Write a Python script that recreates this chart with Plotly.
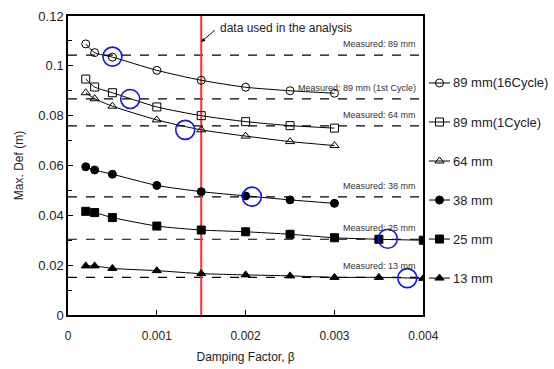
import plotly.graph_objects as go

# Damping factor values used in the analyses
beta_short = [0.0002, 0.0003, 0.0005, 0.001, 0.0015, 0.002, 0.0025, 0.003]
beta_long = [0.0002, 0.0003, 0.0005, 0.001, 0.0015, 0.002, 0.0025, 0.003, 0.0035, 0.004]

# Maximum deflection (m) for each loading amplitude
def_89_16 = [0.1088, 0.1053, 0.1035, 0.0982, 0.0942, 0.0914, 0.0900, 0.0890]
def_89_1 = [0.0947, 0.0915, 0.0892, 0.0835, 0.0800, 0.0776, 0.0760, 0.0750]
def_64 = [0.0892, 0.0868, 0.0838, 0.0783, 0.0743, 0.0718, 0.0696, 0.0680]
def_38 = [0.0595, 0.0582, 0.0565, 0.0520, 0.0495, 0.0478, 0.0462, 0.0448]
def_25 = [0.0416, 0.0411, 0.0391, 0.0357, 0.0341, 0.0334, 0.0324, 0.0310, 0.0304, 0.0300]
def_13 = [0.0197, 0.0197, 0.0187, 0.0178, 0.0166, 0.0161, 0.0157, 0.0151, 0.0151, 0.0147]

series_names = ["89 mm(16Cycle)", "89 mm(1Cycle)", "64 mm", "38 mm", "25 mm", "13 mm"]

# Measured deflections (horizontal reference lines)
measured_labels = ["Measured: 89 mm", "Measured: 89 mm (1st Cycle)", "Measured: 64 mm",
                   "Measured: 38 mm", "Measured: 25 mm", "Measured: 13 mm"]
measured_values = [0.1043, 0.0867, 0.0759, 0.0474, 0.0304, 0.0151]

# Where each analysis curve meets its measured value
match_beta = [0.0005, 0.0007, 0.00132, 0.00207, 0.0036, 0.00382]
match_def = [0.1037, 0.0867, 0.0743, 0.0475, 0.0306, 0.0148]

beta_selected = 0.0015
x_range = [0, 0.004]
y_range = [0, 0.12]
x_ticks = [0, 0.001, 0.002, 0.003, 0.004]
y_ticks = [0, 0.02, 0.04, 0.06, 0.08, 0.1, 0.12]

FONT = "Liberation Sans, Arial, sans-serif"

series = [
    (series_names[0], beta_short, def_89_16, "circle-open"),
    (series_names[1], beta_short, def_89_1, "square-open"),
    (series_names[2], beta_short, def_64, "triangle-up-open"),
    (series_names[3], beta_short, def_38, "circle"),
    (series_names[4], beta_long, def_25, "square"),
    (series_names[5], beta_long, def_13, "triangle-up"),
]

fig = go.Figure()

# measured reference lines
for val in measured_values:
    fig.add_trace(go.Scatter(
        x=x_range, y=[val, val], mode="lines",
        line=dict(color="black", width=1.2, dash="dash"),
        showlegend=False, hoverinfo="skip"))

# selected damping factor
fig.add_trace(go.Scatter(
    x=[beta_selected, beta_selected], y=y_range, mode="lines",
    line=dict(color="rgb(255,45,45)", width=2),
    showlegend=False, hoverinfo="skip"))

for name, xs, ys, sym in series:
    fig.add_trace(go.Scatter(
        x=xs, y=ys, name=name, mode="lines+markers",
        line=dict(color="black", width=1, shape="spline", smoothing=0.6),
        marker=dict(symbol=sym, size=8, color="black",
                    line=dict(color="black", width=1)),
        showlegend=False))

# intersection markers
fig.add_trace(go.Scatter(
    x=match_beta, y=match_def, mode="markers",
    marker=dict(symbol="circle-open", size=19, color="rgb(20,20,235)",
                line=dict(width=1.6, color="rgb(20,20,235)")),
    showlegend=False, hoverinfo="skip"))

# key to the right of the plot, drawn on its own small axis
key_top, key_step = 0.776, 0.1305
annotations = []
for i, (name, xs, ys, sym) in enumerate(series):
    ky = key_top - key_step * i
    fig.add_trace(go.Scatter(
        x=[0, 1], y=[ky, ky], xaxis="x2", yaxis="y2", mode="lines",
        line=dict(color="black", width=1), showlegend=False, hoverinfo="skip"))
    fig.add_trace(go.Scatter(
        x=[0.5], y=[ky], xaxis="x2", yaxis="y2", mode="markers",
        marker=dict(symbol=sym, size=8, color="black",
                    line=dict(color="black", width=1)),
        showlegend=False, hoverinfo="skip"))
    annotations.append(dict(
        x=1, y=ky, xref="x2", yref="y2", text=name, showarrow=False,
        xanchor="left", yanchor="middle", xshift=1,
        font=dict(family=FONT, size=13, color="#222")))

for label, val in zip(measured_labels, measured_values):
    annotations.append(dict(
        x=x_range[1], y=val, xref="x", yref="y", text=label,
        showarrow=False, xanchor="right", yanchor="middle",
        xshift=-5, yshift=11, font=dict(family=FONT, size=9, color="#333")))

# arrow pointing at the selected damping factor
annotations.append(dict(
    x=beta_selected, y=0.1096, xref="x", yref="y", text="",
    showarrow=True, ax=15, ay=-13, arrowhead=2, arrowsize=0.8,
    arrowwidth=1, arrowcolor="black"))
annotations.append(dict(
    x=beta_selected, y=0.1096, xref="x", yref="y",
    text="data used in the analysis", showarrow=False,
    xanchor="left", yanchor="middle", xshift=17, yshift=14,
    font=dict(family=FONT, size=12, color="#222")))

fig.update_layout(
    width=554, height=369,
    margin=dict(l=68, r=10, t=16, b=54, autoexpand=False),
    paper_bgcolor="white", plot_bgcolor="rgba(0,0,0,0)",
    font=dict(family=FONT, size=13, color="#222"),
    showlegend=False,
    annotations=annotations,
    xaxis=dict(
        domain=[0, 0.7464], anchor="y", automargin=False,
        range=x_range, tickvals=x_ticks,
        ticktext=["0", "0.001", "0.002", "0.003", "0.004"],
        ticks="inside", ticklen=5, tickcolor="black",
        ticklabelstandoff=9,
        showline=True, linecolor="black", linewidth=1.5, mirror=True,
        showgrid=False, zeroline=False,
        title=dict(text="Damping Factor, β", font=dict(size=12), standoff=10),
        tickfont=dict(size=12)),
    yaxis=dict(
        domain=[0, 1], anchor="x", automargin=False,
        range=y_range, tickvals=y_ticks,
        ticktext=["0", "0.02", "0.04", "0.06", "0.08", "0.1", "0.12"],
        ticks="inside", ticklen=5, tickcolor="black",
        ticklabelstandoff=0,
        minor=dict(dtick=0.01, ticks="inside", ticklen=4, tickcolor="black"),
        showline=True, linecolor="black", linewidth=1.5, mirror=True,
        showgrid=False, zeroline=False,
        title=dict(text="Max. Def (m)", font=dict(size=12), standoff=12),
        tickfont=dict(size=13)),
    xaxis2=dict(domain=[0.7584, 0.8025], range=[0, 1], anchor="y2",
                visible=False, fixedrange=True, automargin=False),
    yaxis2=dict(domain=[0, 1], range=[0, 1], anchor="x2",
                visible=False, fixedrange=True, automargin=False),
)

fig.write_html("out.html")
